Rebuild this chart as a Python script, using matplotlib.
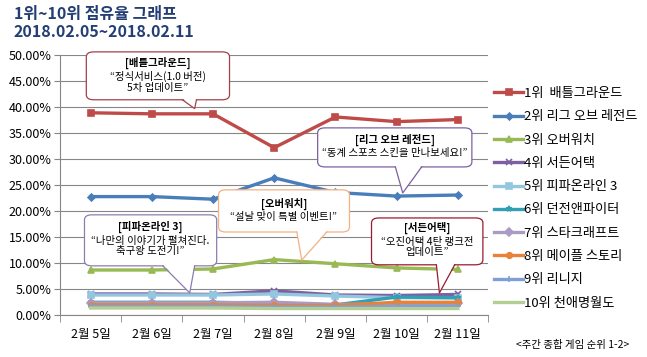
import numpy as np
import matplotlib
matplotlib.use("Agg")
import matplotlib.pyplot as plt
from matplotlib.patches import FancyBboxPatch, Polygon
from matplotlib.lines import Line2D

plt.rcParams['font.family'] = ['Noto Sans CJK KR', 'DejaVu Sans']

# data (share in %)
days = ["2월 5일", "2월 6일", "2월 7일", "2월 8일", "2월 9일", "2월 10일", "2월 11일"]
names = ["1위  배틀그라운드", "2위 리그 오브 레전드", "3위 오버워치", "4위 서든어택",
         "5위 피파온라인 3", "6위 던전앤파이터", "7위 스타크래프트", "8위 메이플 스토리",
         "9위 리니지", "10위 천애명월도"]
battleground = [38.9, 38.7, 38.7, 32.2, 38.1, 37.2, 37.6]
lol = [22.8, 22.8, 22.3, 26.4, 23.6, 22.9, 23.1]
overwatch = [8.7, 8.7, 8.9, 10.7, 9.9, 9.1, 8.8]
sudden = [4.1, 4.1, 4.0, 4.7, 3.9, 3.8, 4.0]
fifa = [3.9, 3.9, 3.9, 4.1, 3.7, 3.4, 3.3]
dnf = [2.5, 2.5, 2.5, 2.3, 2.0, 3.5, 3.4]
starcraft = [2.4, 2.4, 2.4, 2.5, 2.1, 2.2, 2.3]
maple = [2.0, 2.0, 2.0, 1.9, 1.9, 2.5, 2.5]
lineage = [1.7, 1.7, 1.7, 1.6, 1.6, 1.7, 1.7]
cheonae = [1.4, 1.4, 1.4, 1.3, 1.3, 1.3, 1.3]
series = [battleground, lol, overwatch, sudden, fifa, dnf, starcraft, maple, lineage, cheonae]

colors = ["#BE4B48", "#4A7EBB", "#98B954", "#7D60A0", "#93C6DF",
          "#31A0B5", "#A99BC4", "#E8823A", "#7F9FD6", "#B3CF94"]
markers = ["s", "D", "^", "x", "s", "*", "D", "o", "+", ""]
msizes = [4.5, 3.5, 4, 4, 5, 4, 4, 4, 5, 0]

fig = plt.figure(figsize=(6.47, 3.57), dpi=100)
ax = fig.add_axes([60 / 647, 1 - 315.3 / 357, 428.4 / 647, 260.3 / 357])

x = np.arange(len(days))
for vals, c, m, ms, nm in zip(series, colors, markers, msizes, names):
    ax.plot(x, vals, color=c, lw=2.4, marker=m, ms=ms, mew=1.2, label=nm, zorder=3)

ax.set_xlim(-0.5, len(days) - 0.5)
ax.set_ylim(0, 50)
ax.set_yticks(np.arange(0, 51, 5))
ax.set_yticklabels(["%.2f%%" % v for v in np.arange(0, 51, 5)], fontsize=9)
ax.set_xticks(x)
ax.set_xticklabels(days, fontsize=9)
ax.set_xticks(np.arange(-0.5, len(days), 1), minor=True)
ax.tick_params(axis='x', which='major', length=0, pad=9)
ax.tick_params(axis='x', which='minor', length=5, color="#868686")
ax.tick_params(axis='y', length=4, color="#868686", pad=2)
ax.grid(axis='y', color="#868686", lw=0.8)
ax.set_axisbelow(True)
for s in ['top', 'right']:
    ax.spines[s].set_visible(False)
for s in ['left', 'bottom']:
    ax.spines[s].set_color("#868686")

leg = ax.legend(loc='upper left', bbox_to_anchor=(494 / 647, 1 - 87 / 357),
                bbox_transform=fig.transFigure, frameon=False, fontsize=9.5,
                handlelength=2.2, handletextpad=0.1, labelspacing=0.78,
                borderpad=0, borderaxespad=0)

# title
fig.text(14 / 647, 1 - 14 / 357, "1위~10위 점유율 그래프", fontsize=11.5, fontweight='bold',
         color="#243F74", va='center', ha='left')
fig.text(14 / 647, 1 - 32 / 357, "2018.02.05~2018.02.11", fontsize=11.5, fontweight='bold',
         color="#243F74", va='center', ha='left')
fig.text(573 / 647, 1 - 345 / 357, "<주간 종합 게임 순위 1-2>", fontsize=7.5,
         va='center', ha='center')

# callouts: box (x0, x1, y0, y1), pointer base (xa, xb), tip (x, y)
callouts = [
    ((-0.07, 2.27, 41.4, 50.6), (1.50, 1.73), (1.70, 39.7), "#A3404B",
     "[배틀그라운드]", "“정식서비스(1.0 버전)\n5차 업데이트”"),
    ((3.71, 6.23, 28.5, 36.0), (4.98, 5.41), (5.10, 23.5), "#7D60A0",
     "[리그 오브 레전드]", "“동계 스포츠 스킨을 만나보세요!”"),
    ((2.09, 4.23, 16.0, 24.1), (3.37, 3.86), (3.45, 10.6), "#F4B183",
     "[오버워치]", "“설날 맞이 특별 이벤트!”"),
    ((-0.10, 2.06, 9.5, 19.3), (1.18, 1.70), (1.62, 4.3), "#8E7CB0",
     "[피파온라인 3]", "“나만의 이야기가 펼쳐진다.\n축구왕 도전기!”"),
    ((4.59, 6.41, 9.7, 18.7), (5.65, 5.95), (5.70, 4.3), "#9B1B30",
     "[서든어택]", "“오진어택 4탄 랭크전\n업데이트”"),
]
for (x0, x1, y0, y1), (xa, xb), (tx, ty), ec, head, body in callouts:
    box = FancyBboxPatch((x0, y0), x1 - x0, y1 - y0,
                         boxstyle="round,pad=0,rounding_size=0.12",
                         mutation_aspect=8, fc="white", ec=ec, lw=0.9,
                         zorder=5, clip_on=False)
    ax.add_patch(box)
    tri = Polygon([(xa, y0 + 0.3), (tx, ty), (xb, y0 + 0.3)], closed=True,
                  fc="white", ec="none", zorder=6, clip_on=False)
    ax.add_patch(tri)
    ax.add_line(Line2D([xa, tx, xb], [y0, ty, y0], color=ec, lw=0.9, zorder=7,
                       clip_on=False))
    nb = body.count("\n") + 1
    cy = (y0 + y1) / 2
    ax.text((x0 + x1) / 2, cy + 1.1 * nb + 0.3, head, fontsize=7.5, fontweight='bold',
            ha='center', va='center', zorder=8)
    ax.text((x0 + x1) / 2, cy + 1.1 * nb - 1.3, body, fontsize=7.5, ha='center',
            va='top', linespacing=1.05, zorder=8)

fig.savefig("out.png", dpi=100)
